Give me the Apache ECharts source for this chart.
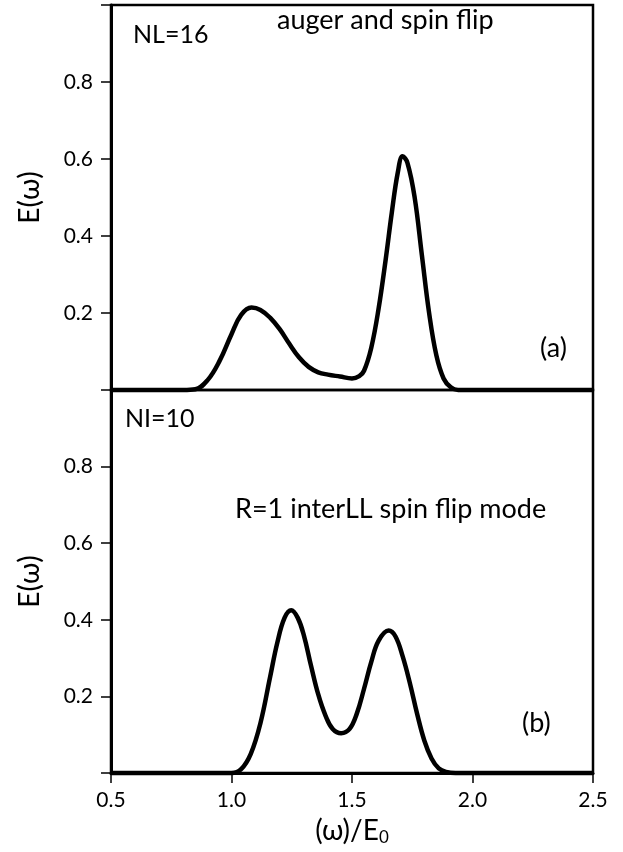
<!DOCTYPE html>
<html>
<head>
<meta charset="utf-8">
<script src="https://cdn.jsdelivr.net/npm/echarts@6/dist/echarts.min.js"></script>
<style>
html,body{margin:0;padding:0;background:#fff;}
#chart{width:623px;height:852px;}
</style>
</head>
<body>
<div id="chart"></div>
<script>
// Panel (a): auger and spin flip, NL=16
var topX = [0.5, 0.8, 0.85, 0.9, 0.95, 1.0, 1.04, 1.083, 1.12, 1.16, 1.2, 1.24, 1.28, 1.32, 1.36, 1.40, 1.45, 1.50, 1.53, 1.55, 1.58, 1.61, 1.64, 1.665, 1.69, 1.71, 1.73, 1.76, 1.79, 1.82, 1.85, 1.88, 1.91, 1.94, 2.5];
var topY = [0, 0, 0.002, 0.025, 0.075, 0.145, 0.195, 0.214, 0.208, 0.188, 0.158, 0.12, 0.085, 0.06, 0.046, 0.04, 0.035, 0.03, 0.036, 0.05, 0.11, 0.21, 0.34, 0.46, 0.565, 0.607, 0.59, 0.5, 0.35, 0.2, 0.09, 0.03, 0.007, 0, 0];
// Panel (b): R=1 interLL spin flip mode, NI=10
var botX = [0.5, 1.0, 1.04, 1.08, 1.12, 1.16, 1.19, 1.22, 1.248, 1.275, 1.30, 1.33, 1.36, 1.39, 1.42, 1.455, 1.49, 1.52, 1.55, 1.58, 1.61, 1.652, 1.68, 1.71, 1.74, 1.77, 1.80, 1.83, 1.86, 1.89, 1.93, 2.5];
var botY = [0, 0, 0.01, 0.05, 0.13, 0.25, 0.34, 0.405, 0.425, 0.405, 0.36, 0.28, 0.205, 0.15, 0.115, 0.104, 0.115, 0.155, 0.22, 0.29, 0.345, 0.372, 0.357, 0.305, 0.235, 0.155, 0.085, 0.038, 0.012, 0.003, 0, 0];
var xTicks = [0.5, 1.0, 1.5, 2.0, 2.5];
var yTicks = [0, 0.2, 0.4, 0.6, 0.8, 1.0];

function zip(a, b) { return a.map(function (v, i) { return [v, b[i]]; }); }

var FONT = 'Lato';
var chart = echarts.init(document.getElementById('chart'), null, {renderer: 'canvas'});

function yAxisOpt(idx) {
  return {
    type: 'value', gridIndex: idx, min: yTicks[0], max: yTicks[yTicks.length - 1], interval: 0.2,
    name: 'E(ω)', nameLocation: 'middle', nameGap: 67,
    nameTextStyle: {fontFamily: FONT, fontSize: 28, color: '#000'},
    axisLine: {show: true, lineStyle: {color: '#000', width: 3}},
    axisTick: {show: true, inside: false, length: 10, lineStyle: {color: '#000', width: 1.5}},
    axisLabel: {
      margin: 18, fontFamily: FONT, fontSize: 21, color: '#000',
      formatter: function (v) { return (v <= 0.0001 || v >= 0.9999) ? '' : v.toFixed(1); }
    },
    splitLine: {show: false}
  };
}

var option = {
  animation: false,
  backgroundColor: '#fff',
  grid: [
    {left: 111, right: 30, top: 5, height: 385, show: true, borderColor: '#000', borderWidth: 2.5, backgroundColor: 'transparent'},
    {left: 111, right: 30, top: 390, height: 383, show: true, borderColor: '#000', borderWidth: 2.5, backgroundColor: 'transparent'}
  ],
  xAxis: [
    {type: 'value', gridIndex: 0, min: 0.5, max: 2.5, interval: 0.5,
     axisLine: {show: false}, axisTick: {show: false}, axisLabel: {show: false}, splitLine: {show: false}},
    {type: 'value', gridIndex: 1, min: 0.5, max: 2.5, interval: 0.5,
     name: '(ω)/E{sub|0}', nameLocation: 'middle', nameGap: 42,
     nameTextStyle: {fontFamily: FONT, fontSize: 28, color: '#000',
       rich: {sub: {fontFamily: FONT, fontSize: 17, color: '#000', verticalAlign: 'bottom', padding: [14, 0, 0, 0]}}},
     axisLine: {show: true, lineStyle: {color: '#000', width: 3}},
     axisTick: {show: true, inside: false, length: 10, lineStyle: {color: '#000', width: 1.5}},
     axisLabel: {margin: 17, fontFamily: FONT, fontSize: 21, color: '#000',
       formatter: function (v) { return v.toFixed(1); }},
     splitLine: {show: false}}
  ],
  yAxis: [yAxisOpt(0), yAxisOpt(1)],
  series: [
    {type: 'line', xAxisIndex: 0, yAxisIndex: 0, data: zip(topX, topY), smooth: 0.4,
     showSymbol: false, lineStyle: {color: '#000', width: 4.5}, clip: false},
    {type: 'line', xAxisIndex: 1, yAxisIndex: 1, data: zip(botX, botY), smooth: 0.4,
     showSymbol: false, lineStyle: {color: '#000', width: 4.5}, clip: false}
  ],
  graphic: [
    {type: 'text', left: 133, top: 22, style: {text: 'NL=16', font: '25px ' + FONT, fill: '#000'}},
    {type: 'text', left: 277, top: 7, style: {text: 'auger and spin flip', font: '27px ' + FONT, fill: '#000'}},
    {type: 'text', left: 540, top: 335, style: {text: '(a)', font: '27px ' + FONT, fill: '#000'}},
    {type: 'text', left: 125, top: 406, style: {text: 'NI=10', font: '25px ' + FONT, fill: '#000'}},
    {type: 'text', left: 235, top: 496, style: {text: 'R=1 interLL spin flip mode', font: '27px ' + FONT, fill: '#000'}},
    {type: 'text', left: 522, top: 710, style: {text: '(b)', font: '27px ' + FONT, fill: '#000'}}
  ]
};
chart.setOption(option);
</script>
</body>
</html>
